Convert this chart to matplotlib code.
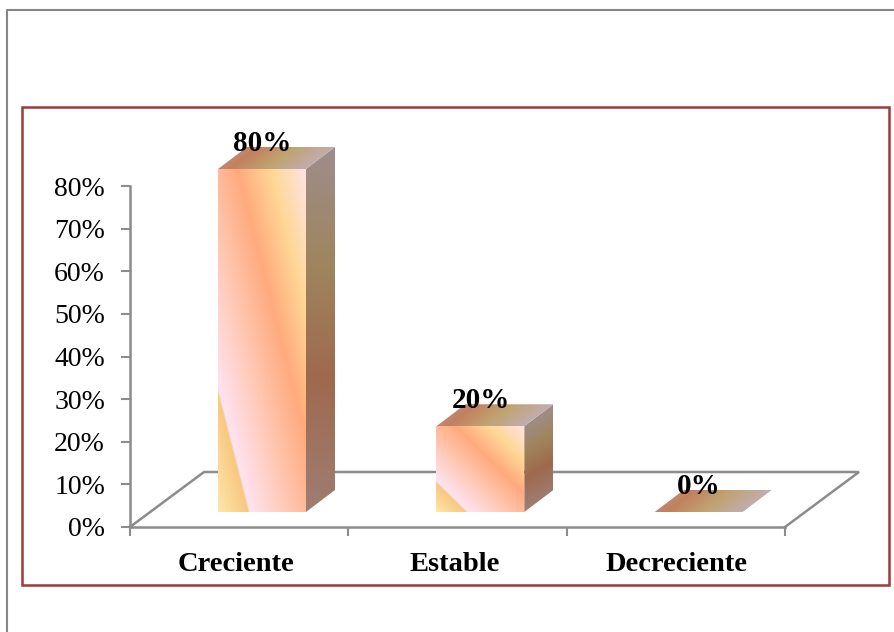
import numpy as np
import matplotlib
matplotlib.use('Agg')
import matplotlib.pyplot as plt
from matplotlib.patches import Polygon, Rectangle
from matplotlib.colors import LinearSegmentedColormap

plt.rcParams['font.family'] = ['Liberation Serif', 'DejaVu Serif']

categories = ['Creciente', 'Estable', 'Decreciente']
values = [0.80, 0.20, 0.0]
value_labels = ['80%', '20%', '0%']
y_ticks = [0, 0.1, 0.2, 0.3, 0.4, 0.5, 0.6, 0.7, 0.8]
y_tick_labels = ['0%', '10%', '20%', '30%', '40%', '50%', '60%', '70%', '80%']

W, H = 895, 632
grey = '#8c8c8c'
red = '#9e3a3a'

fig = plt.figure(figsize=(W / 100, H / 100), dpi=100)

# page frame and chart frame, in pixels
bg = fig.add_axes([0, 0, 1, 1])
bg.set_xlim(0, W)
bg.set_ylim(H, 0)
bg.axis('off')
bg.plot([7.5, 7.5, 895], [632, 10, 10], color='#868686', lw=1.5)
bg.add_patch(Rectangle((22, 106.5), 867, 478, fill=False, ec=red, lw=1.8))

# plot area
ax = fig.add_axes([130 / W, 1 - 527 / H, 655 / W, 341 / H])
ax.set_xlim(-0.5, 2.5)
ax.set_ylim(0, 0.8)
ax.patch.set_visible(False)
for s in ['top', 'right']:
    ax.spines[s].set_visible(False)
for s in ['left', 'bottom']:
    ax.spines[s].set_color(grey)
    ax.spines[s].set_linewidth(1.8)

px = 3 / 655
py = 0.8 / 341

ax.set_yticks(y_ticks)
ax.set_yticklabels(y_tick_labels, fontsize=20)
ax.set_xticks([-0.5, 0.5, 1.5, 2.5])
ax.set_xticklabels([])
ax.tick_params(axis='both', color=grey, width=1.5, length=6.5)
ax.tick_params(axis='y', pad=11.5)
for x, name in enumerate(categories):
    shift = -3 * px if x < 2 else 1 * px
    ax.text(x + shift, -0.0875, name, ha='center', va='center', fontsize=20.5, fontweight='bold')

# sizes of the fake 3d, in data units
floor_dx, floor_dy = 74 * px, 55 * py
bar_w = 88 * px
bar_dx, bar_dy = 29 * px, 22 * py
bar_off_y = 15 * py

# floor
ax.plot([-0.5, -0.5 + floor_dx, 2.5 + floor_dx, 2.5], [0, floor_dy, floor_dy, 0],
        color=grey, lw=1.8, clip_on=False, zorder=1, solid_joinstyle='miter')

stops = [(0.0, '#ffe3e3'), (0.2, '#ffd796'), (0.39, '#ffaa7d'), (0.6, '#ffc8b4'),
         (0.82, '#ffe3f2'), (0.829, '#f8c880'), (1.0, '#ffe6aa')]
cmap = LinearSegmentedColormap.from_list('peach', stops, N=512)


def face(origin, e1, e2, fade, kind):
    # paint a parallelogram with the gradient, clipped to its outline
    o, a, b = np.array(origin), np.array(e1), np.array(e2)
    corners = np.array([o, o + a, o + a + b, o + b])
    x0, y0 = corners.min(axis=0)
    x1, y1 = corners.max(axis=0)
    xs, ys = np.meshgrid(np.linspace(x0, x1, 300), np.linspace(y1, y0, 300))
    m = np.linalg.inv(np.column_stack([a, b]))
    u = m[0, 0] * (xs - o[0]) + m[0, 1] * (ys - o[1])
    v = m[1, 0] * (xs - o[0]) + m[1, 1] * (ys - o[1])
    if kind == 'front':
        t = (v - u + 1) / 2
    elif kind == 'side':
        t = 0.58 * v + 0.04 * (1 - u)
    else:
        t = (1 - u) * 0.45
    rgb = cmap(np.clip(t, 0, 1))[:, :, :3] * fade
    im = ax.imshow(rgb, extent=[x0, x1, y0, y1], aspect='auto', origin='upper',
                   interpolation='bilinear', zorder=3)
    im.set_clip_box(fig.bbox)
    im.set_clip_path(Polygon(corners, transform=ax.transData))


for i, val in enumerate(values):
    left = i - 0.5 + (218 - 130) * px
    base = bar_off_y
    h = val * (343 / 341)
    if h > 0:
        face((left, base + h), (bar_w, 0), (0, -h), 1.0, 'front')
        face((left + bar_w, base + h), (bar_dx, bar_dy), (0, -h), 0.62, 'side')
    face((left, base + h), (bar_w, 0), (bar_dx, bar_dy), 0.76, 'top')
    ax.text(left + bar_w / 2 + 0.5 * px, base + h + 25.5 * py, value_labels[i], ha='center',
            va='center', fontsize=21, fontweight='bold', zorder=5)

ax.set_xlim(-0.5, 2.5)
ax.set_ylim(0, 0.8)

fig.savefig('out.png', dpi=100)
